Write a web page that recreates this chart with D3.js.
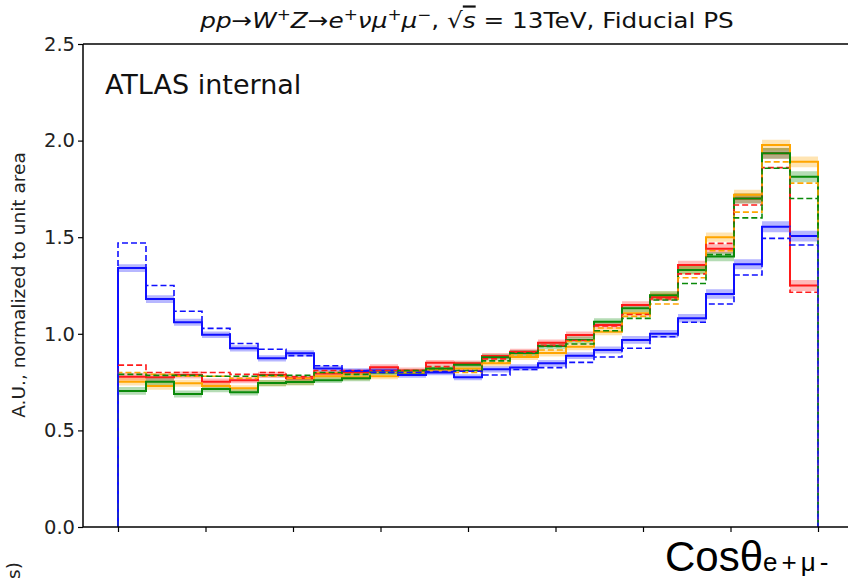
<!DOCTYPE html>
<html>
<head>
<meta charset="utf-8">
<script src="https://cdn.jsdelivr.net/npm/d3@7"></script>
<style>
  html, body { margin: 0; padding: 0; background: #fff; }
  svg { display: block; }
</style>
</head>
<body>
<svg id="chart" width="848" height="581"></svg>
<script>
// ---- data ----
const binLow = -1, binHigh = 1, nBins = 25;
const yTicks = [0.0, 0.5, 1.0, 1.5, 2.0, 2.5];
const xTicks = [-1, -0.75, -0.5, -0.25, 0, 0.25, 0.5, 0.75, 1];

const blueSolid   = [1.34, 1.18, 1.06, 0.995, 0.925, 0.873, 0.899, 0.82, 0.807, 0.81, 0.787, 0.80, 0.775, 0.816, 0.826, 0.847, 0.887, 0.916, 0.968, 1.00, 1.08, 1.206, 1.36, 1.554, 1.506];
const blueDashed  = [1.47, 1.25, 1.117, 1.028, 0.95, 0.92, 0.887, 0.835, 0.81, 0.80, 0.80, 0.804, 0.806, 0.787, 0.815, 0.825, 0.852, 0.88, 0.925, 0.985, 1.06, 1.154, 1.304, 1.494, 1.46];
const redSolid    = [0.778, 0.775, 0.787, 0.752, 0.76, 0.787, 0.77, 0.795, 0.80, 0.827, 0.81, 0.85, 0.847, 0.885, 0.907, 0.954, 0.994, 1.046, 1.149, 1.19, 1.356, 1.44, 1.70, 1.934, 1.25];
const redDashed   = [0.838, 0.80, 0.80, 0.80, 0.79, 0.80, 0.778, 0.81, 0.81, 0.81, 0.81, 0.83, 0.81, 0.87, 0.905, 0.94, 0.965, 1.04, 1.10, 1.18, 1.31, 1.468, 1.667, 1.86, 1.215];
const orangeSolid = [0.752, 0.73, 0.744, 0.73, 0.718, 0.745, 0.75, 0.78, 0.775, 0.78, 0.80, 0.815, 0.82, 0.847, 0.88, 0.90, 0.933, 1.011, 1.106, 1.20, 1.33, 1.50, 1.72, 1.977, 1.89];
const orangeDashed= [0.80, 0.79, 0.78, 0.78, 0.77, 0.78, 0.77, 0.80, 0.79, 0.80, 0.80, 0.81, 0.80, 0.85, 0.89, 0.916, 0.96, 1.03, 1.09, 1.154, 1.29, 1.43, 1.63, 1.89, 1.78];
const greenSolid  = [0.704, 0.752, 0.688, 0.714, 0.697, 0.745, 0.75, 0.76, 0.77, 0.80, 0.80, 0.82, 0.84, 0.878, 0.90, 0.937, 0.968, 1.063, 1.132, 1.20, 1.33, 1.40, 1.70, 1.934, 1.813];
const greenDashed = [0.79, 0.785, 0.785, 0.78, 0.78, 0.785, 0.785, 0.80, 0.79, 0.80, 0.81, 0.82, 0.81, 0.86, 0.90, 0.935, 0.947, 1.016, 1.08, 1.175, 1.26, 1.41, 1.60, 1.857, 1.70];
// half-width of the shaded uncertainty band on the solid curves
const bandErr     = [0.02, 0.02, 0.018, 0.017, 0.016, 0.016, 0.016, 0.015, 0.015, 0.015, 0.015, 0.015, 0.015, 0.016, 0.016, 0.017, 0.018, 0.018, 0.02, 0.02, 0.022, 0.024, 0.026, 0.028, 0.028];

const solidSeries = [
  {name: "red", values: redSolid, color: "#ff1a1a"},
  {name: "orange", values: orangeSolid, color: "#ffa500"},
  {name: "green", values: greenSolid, color: "#0a8a0a"},
  {name: "blue", values: blueSolid, color: "#1010ff"}
];
const dashedSeries = [
  {name: "red", values: redDashed, color: "#ff1a1a"},
  {name: "orange", values: orangeDashed, color: "#ffa500"},
  {name: "green", values: greenDashed, color: "#0a8a0a"},
  {name: "blue", values: blueDashed, color: "#1010ff"}
];

// ---- layout ----
const svg = d3.select("#chart");
const mLeft = 83, mRight = 853, mTop = 44, mBottom = 527;
const x = d3.scaleLinear().domain([-1.1, 1.1]).range([mLeft, mRight]);
const y = d3.scaleLinear().domain([0, 2.5]).range([mBottom, mTop]);
const binW = (binHigh - binLow) / nBins;
const edges = d3.range(nBins + 1).map(i => binLow + i * binW);

function stepPoints(vals) {
  const pts = [[edges[0], 0]];
  vals.forEach((v, i) => { pts.push([edges[i], v]); pts.push([edges[i + 1], v]); });
  pts.push([edges[nBins], 0]);
  return pts;
}
const line = d3.line().x(d => x(d[0])).y(d => y(d[1]));
const area = d3.area().x(d => x(d[0])).y0(d => y(d[1] - d[2])).y1(d => y(d[1] + d[2]));

const plot = svg.append("g");
// bands
solidSeries.forEach(s => {
  const pts = [];
  s.values.forEach((v, i) => { pts.push([edges[i], v, bandErr[i]]); pts.push([edges[i + 1], v, bandErr[i]]); });
  plot.append("path").attr("d", area(pts)).attr("fill", s.color).attr("opacity", 0.3).attr("stroke", "none");
});
// solid lines
solidSeries.forEach(s => {
  plot.append("path").attr("d", line(stepPoints(s.values)))
    .attr("fill", "none").attr("stroke", s.color).attr("stroke-width", 2);
});
// dashed lines
dashedSeries.forEach(s => {
  plot.append("path").attr("d", line(stepPoints(s.values)))
    .attr("fill", "none").attr("stroke", s.color).attr("stroke-width", 1.6)
    .attr("stroke-dasharray", "6,3");
});

// ---- axes ----
const yAxis = d3.axisLeft(y).tickValues(yTicks).tickFormat(d3.format(".1f")).tickSize(5).tickPadding(3);
const gy = svg.append("g").attr("transform", `translate(${mLeft},0)`).call(yAxis);
gy.select(".domain").remove();
gy.selectAll("line").attr("stroke", "#000").attr("stroke-width", 1.2);
gy.selectAll("text").attr("font-family", "DejaVu Sans").attr("font-size", 19.5).attr("fill", "#222");

const xAxis = d3.axisBottom(x).tickValues(xTicks).tickFormat("").tickSize(5);
const gx = svg.append("g").attr("transform", `translate(0,${mBottom})`).call(xAxis);
gx.select(".domain").remove();
gx.selectAll("line").attr("stroke", "#000").attr("stroke-width", 1.2);

// spines
svg.append("line").attr("x1", mLeft).attr("x2", mLeft).attr("y1", mTop).attr("y2", mBottom).attr("stroke", "#000").attr("stroke-width", 1.5);
svg.append("line").attr("x1", mLeft).attr("x2", mRight).attr("y1", mTop).attr("y2", mTop).attr("stroke", "#000").attr("stroke-width", 1.5);
svg.append("line").attr("x1", mLeft).attr("x2", mRight).attr("y1", mBottom).attr("y2", mBottom).attr("stroke", "#000").attr("stroke-width", 1.5);

// y label
svg.append("text")
  .attr("transform", "translate(25,285) rotate(-90)")
  .attr("text-anchor", "middle")
  .attr("font-family", "DejaVu Sans").attr("font-size", 18.5).attr("fill", "#222")
  .text("A.U., normalized to unit area");

// ATLAS internal
svg.append("text").attr("x", 105).attr("y", 94)
  .attr("font-family", "DejaVu Sans").attr("font-size", 27).attr("fill", "#111")
  .text("ATLAS internal");

// title (fitted horizontally to the reference width)
const titleG = svg.append("g");
const title = titleG.append("text").attr("x", 467).attr("y", 28).attr("text-anchor", "middle")
  .attr("font-family", "DejaVu Sans").attr("font-size", 22).attr("fill", "#111");
const parts = [
  ["pp", "italic"], ["\u2192", null], ["W", "italic"], ["+", "sup"], ["Z", "italic"],
  ["\u2192", null], ["e", "italic"], ["+", "sup"], ["\u03bd\u03bc", "italic"], ["+", "sup"],
  ["\u03bc", "italic"], ["\u2212", "sup"], [", ", null], ["\u221a", null], ["s", "over"],
  [" = 13TeV, Fiducial PS", null]
];
parts.forEach(([t, kind]) => {
  const ts = title.append("tspan").text(t);
  if (kind === "italic") ts.attr("font-style", "italic");
  if (kind === "sup") ts.attr("font-size", 15).attr("baseline-shift", "8");
  if (kind === "over") ts.attr("font-style", "italic").style("text-decoration", "overline");
});
{
  const bb = title.node().getBBox();
  const targetW = 535, cx = 467;
  const s = targetW / bb.width;
  titleG.attr("transform", `translate(${cx},0) scale(${s},1) translate(${-cx},0)`);
}

// x label (large)
const xl = svg.append("text").attr("x", 665).attr("y", 571)
  .attr("font-family", "Liberation Sans").attr("font-size", 42).attr("fill", "#000");
xl.append("tspan").text("Cos\u03b8");
xl.append("tspan").attr("font-size", 26).attr("letter-spacing", 4).text("e+\u03bc-");

// cut-off label at bottom left
svg.append("text")
  .attr("transform", "translate(20,579) rotate(-90)")
  .attr("text-anchor", "start")
  .attr("font-family", "DejaVu Sans").attr("font-size", 18.5).attr("fill", "#222")
  .text("s)");
</script>
</body>
</html>
